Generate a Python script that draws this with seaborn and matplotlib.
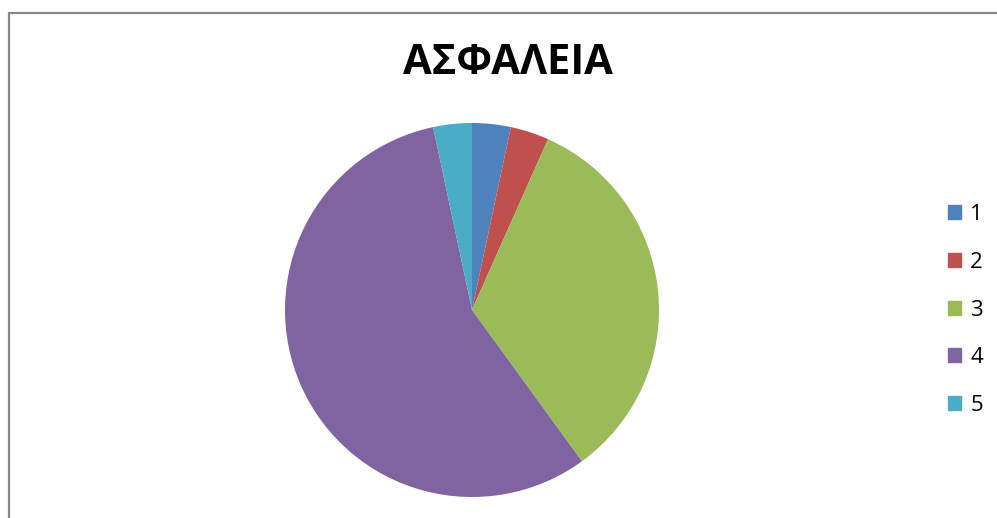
import matplotlib
matplotlib.use('Agg')
import matplotlib.pyplot as plt
import matplotlib.patches as mpatches
import seaborn as sns

title = 'ΑΣΦΑΛΕΙΑ'
categories = ['1', '2', '3', '4', '5']
counts = [1, 1, 10, 17, 1]
colors = ['#4F81BD', '#C0504D', '#9BBB59', '#8064A2', '#4BACC6']

sns.set_theme(style='white')
plt.rcParams['font.family'] = ['Open Sans', 'DejaVu Sans']

fig = plt.figure(figsize=(9.97, 5.18), dpi=100)

# chart border (gray frame, cut at right and bottom)
fig.add_artist(plt.Line2D([8.5 / 997, 1], [1 - 12.5 / 518, 1 - 12.5 / 518],
                          color='#888888', lw=1.6))
fig.add_artist(plt.Line2D([8.5 / 997, 8.5 / 997], [0, 1 - 12.5 / 518],
                          color='#888888', lw=1.6))

# pie
cx, cy, r = 472, 310, 187
ax = fig.add_axes([(cx - r) / 997, (518 - cy - r) / 518, 2 * r / 997, 2 * r / 518])
ax.pie(counts, colors=colors, startangle=90, counterclock=False,
       wedgeprops=dict(linewidth=0))
ax.set_aspect('equal')
ax.set_xlim(-1, 1)
ax.set_ylim(-1, 1)
ax.axis('off')

fig.text(508 / 997, 1 - 64 / 518, title, ha='center', va='center',
         fontsize=30, fontweight='bold', color='black')

handles = [mpatches.Patch(color=c, label=l) for c, l in zip(colors, categories)]
leg = fig.legend(handles=handles, loc='center left', bbox_to_anchor=(948 / 997, 1 - 310 / 518),
                 frameon=False, fontsize=16, handlelength=0.6, handleheight=0.6,
                 handletextpad=0.4, labelspacing=1.2, borderpad=0, borderaxespad=0)
for t in leg.get_texts():
    t.set_color('black')

fig.savefig('out.png', dpi=100)
